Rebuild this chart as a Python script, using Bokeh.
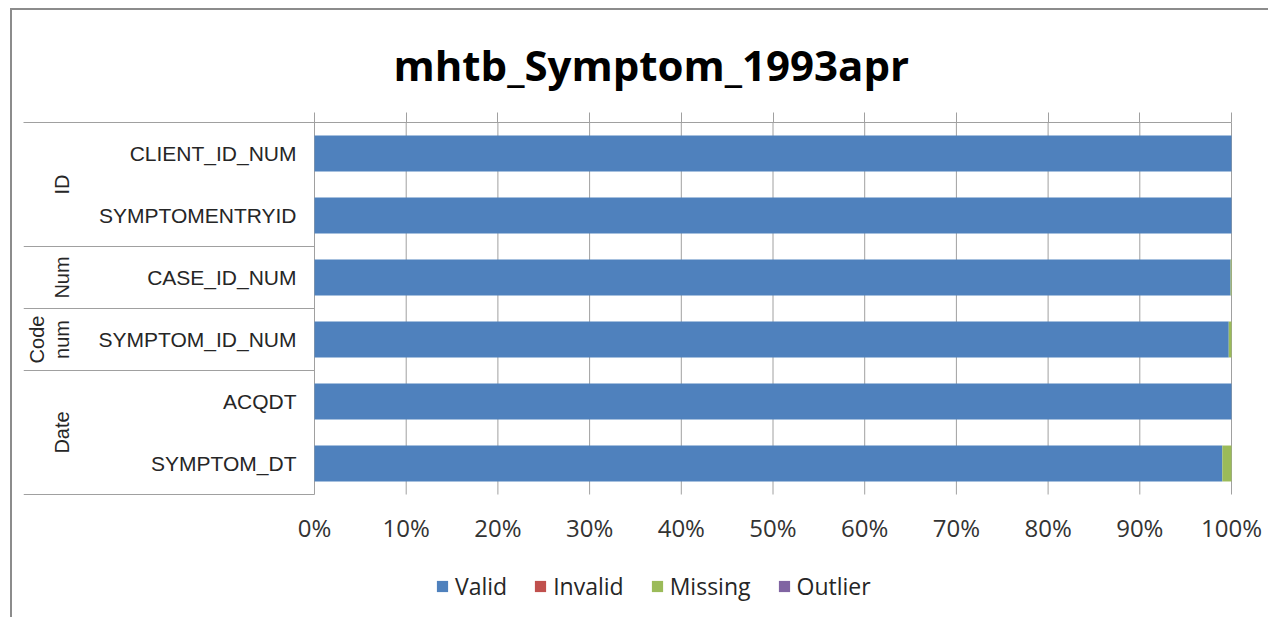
from bokeh.plotting import figure
from bokeh.models import (Range1d, LinearAxis, FixedTicker,
                          NumeralTickFormatter, CustomJSTickFormatter,
                          Legend, LegendItem, ColumnDataSource)
from bokeh.core.properties import value
from bokeh.embed import file_html
from bokeh.resources import INLINE
import math

# ---------------- data ----------------
title = "mhtb_Symptom_1993apr"
categories = ["CLIENT_ID_NUM", "SYMPTOMENTRYID", "CASE_ID_NUM",
              "SYMPTOM_ID_NUM", "ACQDT", "SYMPTOM_DT"]
groups = ["ID", "ID", "Num", "Code num", "Date", "Date"]
valid = [1.000, 1.000, 0.999, 0.997, 1.000, 0.990]
invalid = [0.0, 0.0, 0.0, 0.0, 0.0, 0.0]
missing = [0.000, 0.000, 0.001, 0.003, 0.000, 0.010]
outlier = [0.0, 0.0, 0.0, 0.0, 0.0, 0.0]
series = ["Valid", "Invalid", "Missing", "Outlier"]
colors = ["#4F81BD", "#C0504D", "#9BBB59", "#8064A2"]
x_ticks = [0.0, 0.1, 0.2, 0.3, 0.4, 0.5, 0.6, 0.7, 0.8, 0.9, 1.0]

# ---------------- layout constants ----------------
PX_PER_UNIT = 917.0            # pixels of the 0..100% span
LEFT_AREA = 291.0              # label area left of the 0% line
RIGHT_AREA = 38.0              # room right of 100% for its tick label
X_LEFT = -LEFT_AREA / PX_PER_UNIT
X_RIGHT = 1.0 + RIGHT_AREA / PX_PER_UNIT
Y_BOTTOM = -2.0                # room below the bars for tick labels and legend
GRID = "#a0a0a0"
TEXT = "#262626"

n = len(categories)
ypos = [n - i - 0.5 for i in range(n)]   # first category at the top
source = ColumnDataSource(dict(cat=categories, y=ypos, Valid=valid, Invalid=invalid,
                               Missing=missing, Outlier=outlier))

p = figure(width=1258, height=609,
           x_range=Range1d(X_LEFT, X_RIGHT), y_range=Range1d(Y_BOTTOM, n),
           x_axis_location=None, y_axis_location=None,
           output_backend="svg", toolbar_location=None,
           min_border_left=11, min_border_right=1,
           min_border_top=112, min_border_bottom=1)
p.styles = {"margin-left": "10px", "margin-top": "8px",
            "border-left": "2px solid #8c8c8c", "border-top": "2px solid #8c8c8c"}
p.outline_line_color = None
p.background_fill_color = "white"
p.border_fill_color = "white"
p.xgrid.visible = False
p.ygrid.visible = False

# title
p.title.text = title
p.title.align = "left"
p.title.offset = 370
p.title.text_font = "Open Sans"
p.title.text_font_style = "bold"
p.title.text_font_size = "42px"
p.title.text_color = "black"
p.title.standoff = 40

# vertical grid lines 0%..100% over the bar area
p.segment(x0=x_ticks, x1=x_ticks, y0=[0.0] * len(x_ticks), y1=[float(n)] * len(x_ticks),
          line_color=GRID, line_width=1)

rs = p.hbar_stack(series, y="y", height=0.58, color=colors, source=source,
                  line_color=None)

# bottom axis (labels only) fixed at the bottom of the bar area
xb = LinearAxis(ticker=FixedTicker(ticks=x_ticks), fixed_location=0,
                formatter=NumeralTickFormatter(format="0%"),
                axis_line_color=None, major_tick_line_color=None,
                minor_tick_line_color=None,
                major_label_standoff=10, major_label_text_font="Open Sans",
                major_label_text_font_size="24px", major_label_text_color="#333333")
p.add_layout(xb, "below")

# top axis: line across label area and bars + outward ticks
xt = LinearAxis(ticker=FixedTicker(ticks=x_ticks), bounds=(X_LEFT, 1.0),
                formatter=CustomJSTickFormatter(code="return ''"),
                axis_line_color=GRID, major_tick_line_color=GRID,
                minor_tick_line_color=None, major_tick_out=10, major_tick_in=0,
                major_label_standoff=0, major_label_text_font_size="1px")
p.add_layout(xt, "above")

# category labels
p.text(x=-18.0 / PX_PER_UNIT, y="y", text="cat", source=source,
       text_align="right", text_baseline="middle",
       text_font=value("Liberation Sans"), text_font_size="21px", text_color=TEXT)

# group spans from the group list
spans = []
start = 0
for i in range(1, n + 1):
    if i == n or groups[i] != groups[start]:
        spans.append((groups[start], start, i))
        start = i

gx, gy, gt, sep_y = [], [], [], []
for name, a, b in spans:
    top = n - a
    bot = n - b
    center = (top + bot) / 2
    lines = name.split(" ")
    k = len(lines)
    for j, ln in enumerate(lines):
        gx.append(-252.5 / PX_PER_UNIT - (k - 1 - j) * 25.0 / PX_PER_UNIT)
        gy.append(center)
        gt.append(ln)
    sep_y.append(bot)

p.text(x=gx, y=gy, text=gt, angle=math.pi / 2, text_align="center",
       text_baseline="middle", text_font=value("Liberation Sans"),
       text_font_size="20px", text_color=TEXT)
p.segment(x0=[X_LEFT] * len(sep_y), x1=[0.0] * len(sep_y), y0=sep_y, y1=sep_y,
          line_color=GRID, line_width=1)

# legend
legend = Legend(items=[LegendItem(label=s, renderers=[r]) for s, r in zip(series, rs)],
                orientation="horizontal", location=(412, 16),
                glyph_width=14, glyph_height=14, label_standoff=6, spacing=26,
                padding=0, margin=0, border_line_color=None, background_fill_alpha=0,
                label_text_font="Open Sans", label_text_font_size="23px",
                label_text_color=TEXT)
p.add_layout(legend, "center")

open("out.html", "w").write(file_html(p, INLINE))
